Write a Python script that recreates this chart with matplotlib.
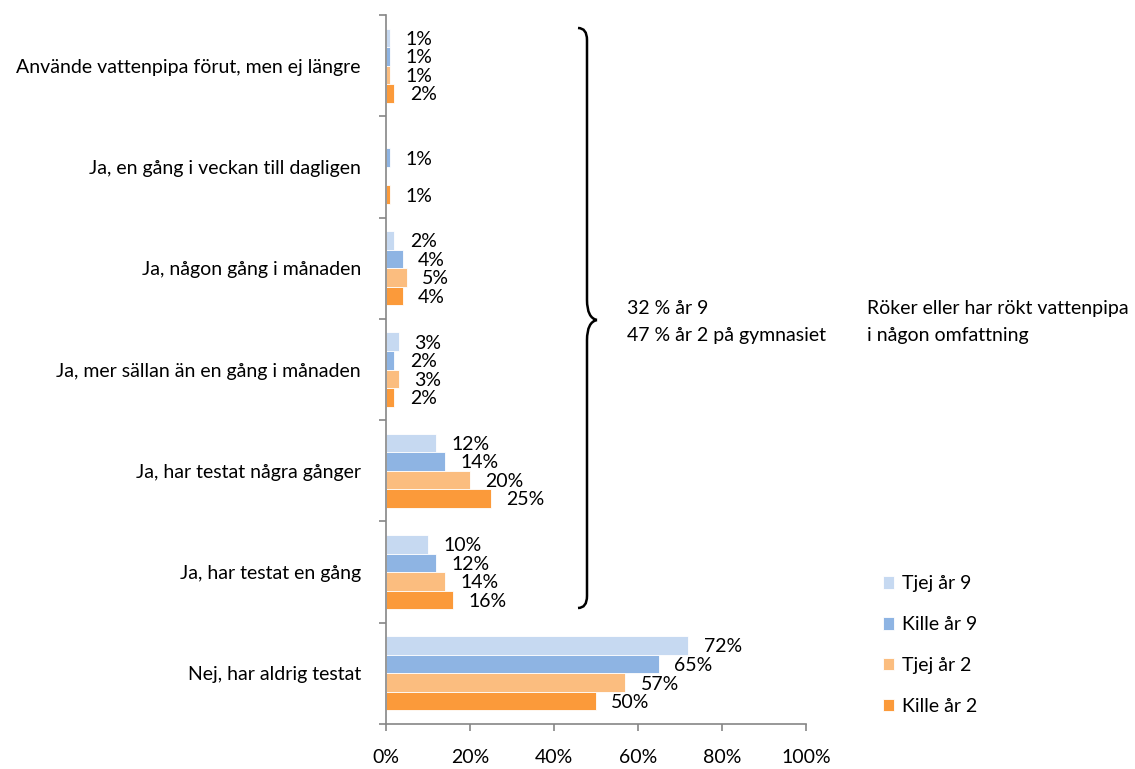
import matplotlib.pyplot as plt
from matplotlib.path import Path
from matplotlib.patches import PathPatch
import numpy as np

plt.rcParams['font.family'] = ['Lato', 'DejaVu Sans']

categories = ["Använde vattenpipa förut, men ej längre",
              "Ja, en gång i veckan till dagligen",
              "Ja, någon gång i månaden",
              "Ja, mer sällan än en gång i månaden",
              "Ja, har testat några gånger",
              "Ja, har testat en gång",
              "Nej, har aldrig testat"]
series = ["Tjej år 9", "Kille år 9", "Tjej år 2", "Kille år 2"]
tjej9 = [1, None, 2, 3, 12, 10, 72]
kille9 = [1, 1, 4, 2, 14, 12, 65]
tjej2 = [1, None, 5, 3, 20, 14, 57]
kille2 = [2, 1, 4, 2, 25, 16, 50]
xticks = [0, 20, 40, 60, 80, 100]

colours = ["#C6D9F1", "#8EB4E3", "#FBBD7F", "#FB9A3A"]
values = [tjej9, kille9, tjej2, kille2]

fig = plt.figure(figsize=(11.35, 7.69), dpi=100)
ax = fig.add_axes([386/1135, 45/769, 420/1135, 709/769])

fs = 14
h = 0.183
y = np.arange(len(categories))
for j, (vals, col) in enumerate(zip(values, colours)):
    v = np.array([np.nan if a is None else a for a in vals], dtype=float)
    pos = y + (j - 1.5) * h
    ax.barh(pos, np.nan_to_num(v), height=h, color=col, edgecolor="white",
            linewidth=0.6, label=series[j])
    for p, a in zip(pos, v):
        if not np.isnan(a):
            ax.annotate(f"{int(a)}%", (a, p), xytext=(11, -1), textcoords="offset points",
                        ha="left", va="center", fontsize=fs)

ax.set_xlim(0, 100)
ax.set_ylim(len(categories) - 0.5, -0.5)
ax.set_xticks(xticks)
ax.set_xticklabels([f"{t}%" for t in xticks], fontsize=fs)
ax.set_yticks(np.arange(len(categories) + 1) - 0.5)
ax.set_yticklabels([])
ax.set_yticks(y, minor=True)
ax.set_yticklabels(categories, minor=True, fontsize=fs)
ax.tick_params(axis="y", which="minor", length=0, pad=18)
ax.tick_params(axis="y", which="major", length=5, color="#868686", width=1.2)
ax.tick_params(axis="x", length=5, color="#868686", width=1.2, pad=13)
for s in ["top", "right"]:
    ax.spines[s].set_visible(False)
for s in ["left", "bottom"]:
    ax.spines[s].set_color("#868686")
    ax.spines[s].set_linewidth(1.2)

# curly brace, drawn in figure pixels
W, H = 1135, 769
def P(x, yy):
    return (x / W, 1 - yy / H)
verts = [P(578, 28), P(587, 28), P(587, 40),
         P(587, 300), P(587, 318), P(597, 320),
         P(597, 320), P(587, 322), P(587, 340),
         P(587, 596), P(587, 608), P(578, 608)]
codes = [Path.MOVETO, Path.CURVE3, Path.CURVE3,
         Path.LINETO, Path.CURVE3, Path.CURVE3,
         Path.MOVETO, Path.CURVE3, Path.CURVE3,
         Path.LINETO, Path.CURVE3, Path.CURVE3]
fig.patches.append(PathPatch(Path(verts, codes), transform=fig.transFigure,
                             fill=False, lw=1.8, color="black"))

fig.text(627/W, 1 - 308/H, "32 % år 9", fontsize=fs, va="center")
fig.text(627/W, 1 - 336/H, "47 % år 2 på gymnasiet", fontsize=fs, va="center")
fig.text(867/W, 1 - 308/H, "Röker eller har rökt vattenpipa", fontsize=fs, va="center")
fig.text(867/W, 1 - 336/H, "i någon omfattning", fontsize=fs, va="center")

fig.legend(loc="upper left", bbox_to_anchor=(865/W, 1 - 558/H), frameon=False,
           fontsize=fs, handlelength=0.6, handleheight=0.6, handletextpad=0.4,
           labelspacing=1.22)

fig.savefig("out.png", dpi=100)
